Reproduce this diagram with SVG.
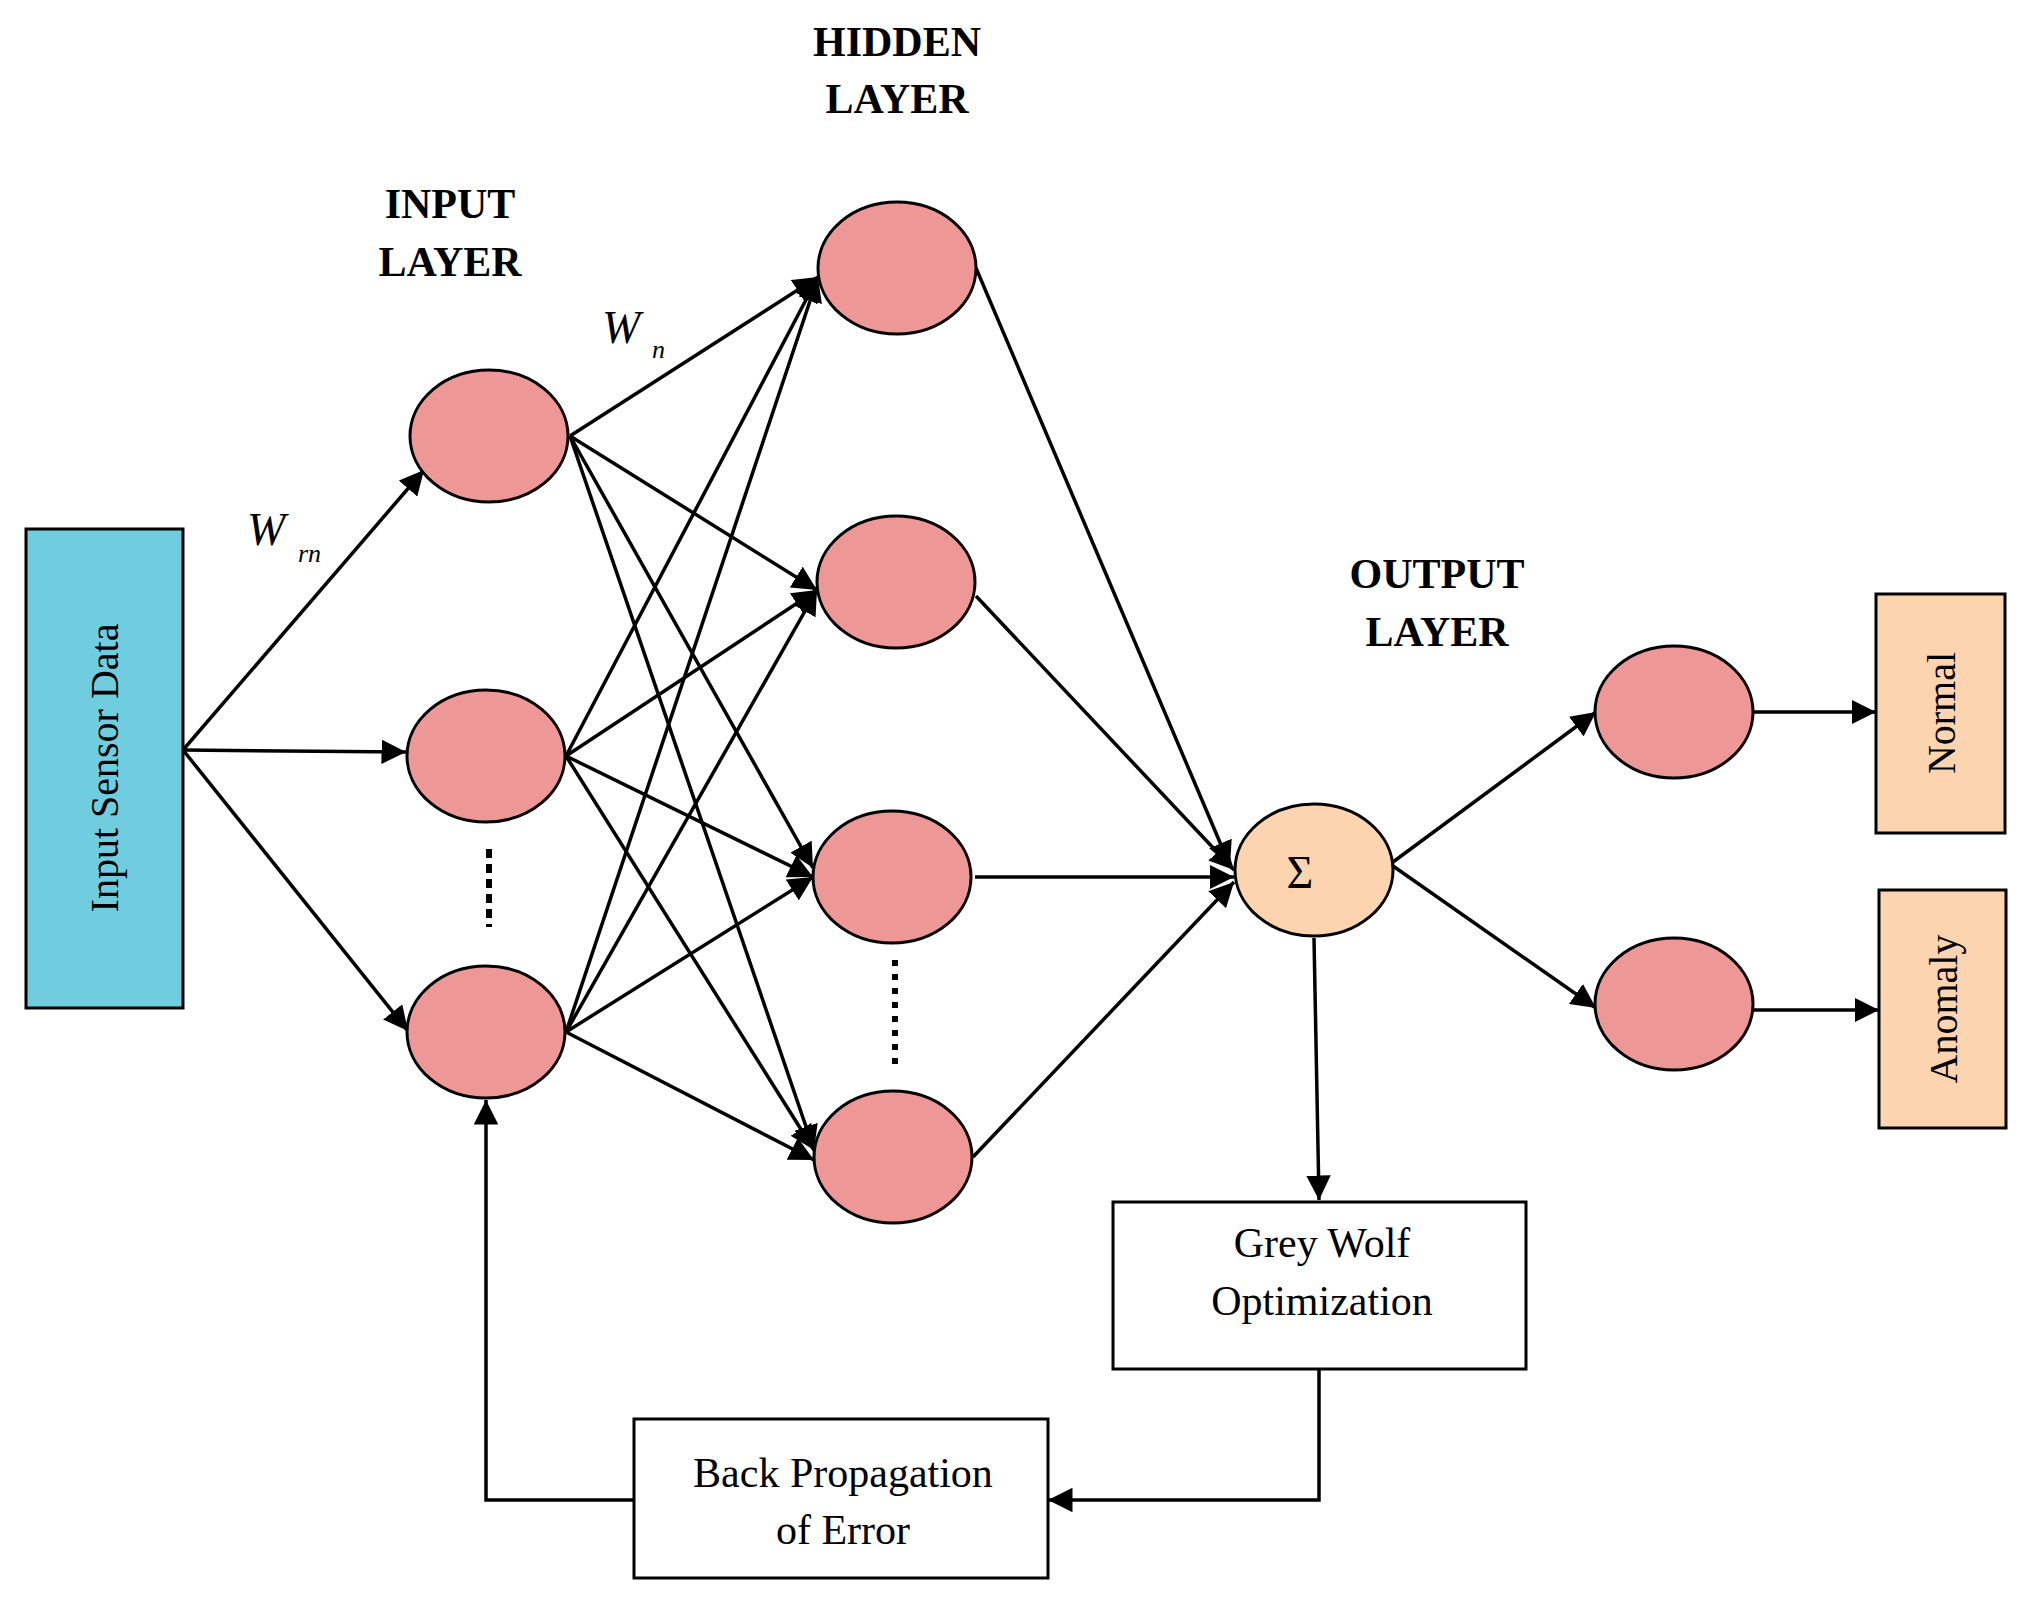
<svg xmlns="http://www.w3.org/2000/svg" width="2023" height="1598" viewBox="0 0 2023 1598">
<style>
.n{fill:#ed9796;stroke:#000;stroke-width:3}
.s{fill:#fdd4b0;stroke:#000;stroke-width:3}
.b{fill:#fff;stroke:#000;stroke-width:3}
.c line,.c polyline{stroke:#000;stroke-width:3.5;fill:none;marker-end:url(#a)}
.h{font-family:"Liberation Serif",serif;font-weight:bold;font-size:42px;text-anchor:middle}
.t{font-family:"Liberation Serif",serif;font-size:42px;text-anchor:middle}
.w{font-family:"Liberation Serif",serif;font-style:italic}
</style>
<defs><marker id="a" viewBox="0 0 10 10" refX="10" refY="5" markerWidth="8" markerHeight="8" markerUnits="userSpaceOnUse" orient="auto"><path d="M0,0L10,5L0,10z"/></marker>
<marker id="a2" viewBox="0 0 10 10" refX="10" refY="5" markerWidth="7" markerHeight="7" orient="auto"><path d="M0,0L10,5L0,10z"/></marker></defs>
<style>.c line,.c polyline{marker-end:url(#a2)}</style>
<g class="c">
<line x1="183" y1="750" x2="424" y2="470"/>
<line x1="183" y1="750" x2="406" y2="752"/>
<line x1="183" y1="750" x2="408" y2="1031"/>
<line x1="570" y1="436" x2="818" y2="277"/>
<line x1="570" y1="436" x2="817" y2="590"/>
<line x1="570" y1="436" x2="813" y2="868"/>
<line x1="570" y1="436" x2="814" y2="1150"/>
<line x1="566" y1="756" x2="818" y2="277"/>
<line x1="566" y1="756" x2="817" y2="590"/>
<line x1="566" y1="756" x2="813" y2="877"/>
<line x1="566" y1="756" x2="814" y2="1150"/>
<line x1="566" y1="1032" x2="818" y2="277"/>
<line x1="566" y1="1032" x2="817" y2="590"/>
<line x1="566" y1="1032" x2="813" y2="877"/>
<line x1="566" y1="1032" x2="814" y2="1160"/>
<line x1="976" y1="268" x2="1230" y2="866"/>
<line x1="976" y1="596" x2="1234" y2="870"/>
<line x1="975" y1="877" x2="1234" y2="877"/>
<line x1="973" y1="1157" x2="1234" y2="882"/>
<line x1="1393" y1="862" x2="1596" y2="712"/>
<line x1="1393" y1="866" x2="1596" y2="1008"/>
<line x1="1753" y1="712" x2="1876" y2="712"/>
<line x1="1753" y1="1010" x2="1879" y2="1010"/>
<line x1="1314" y1="938" x2="1319" y2="1200"/>
<polyline points="1319,1369 1319,1500 1048,1500"/>
<polyline points="634,1500 486,1500 486,1100"/>
</g>
<g id="input-data"><rect x="26" y="529" width="157" height="479" fill="#70cde0" stroke="#000" stroke-width="3"/><text class="t" transform="translate(118,768) rotate(-90)" style="font-size:40px">Input Sensor Data</text></g>
<g id="input-nodes"><ellipse class="n" cx="489" cy="436" rx="79" ry="66"/><ellipse class="n" cx="486" cy="756" rx="79" ry="66"/><ellipse class="n" cx="486" cy="1032" rx="79" ry="66"/>
<line x1="489" y1="849" x2="489" y2="927" stroke="#000" stroke-width="6" stroke-dasharray="9,6"/></g>
<g id="hidden-nodes"><ellipse class="n" cx="897" cy="268" rx="79" ry="66"/><ellipse class="n" cx="896" cy="582" rx="79" ry="66"/><ellipse class="n" cx="892" cy="877" rx="79" ry="66"/><ellipse class="n" cx="893" cy="1157" rx="79" ry="66"/>
<line x1="895" y1="960" x2="895" y2="1066" stroke="#000" stroke-width="6" stroke-dasharray="6,8"/></g>
<g id="sum"><ellipse class="s" cx="1314" cy="870" rx="79" ry="66"/><text class="t" x="1300" y="888" style="font-size:46px">Σ</text></g>
<g id="output-nodes"><ellipse class="n" cx="1674" cy="712" rx="79" ry="66"/><ellipse class="n" cx="1674" cy="1004" rx="79" ry="66"/></g>
<g id="normal"><rect class="s" x="1876" y="594" width="129" height="239"/><text class="t" transform="translate(1955,713) rotate(-90)" style="font-size:40px">Normal</text></g>
<g id="anomaly"><rect class="s" x="1879" y="890" width="127" height="238"/><text class="t" transform="translate(1957,1009) rotate(-90)" style="font-size:40px">Anomaly</text></g>
<g id="gwo"><rect class="b" x="1113" y="1202" width="413" height="167"/><text class="t" x="1322" y="1257">Grey Wolf</text><text class="t" x="1322" y="1315">Optimization</text></g>
<g id="bp"><rect class="b" x="634" y="1419" width="414" height="159"/><text class="t" x="843" y="1487">Back Propagation</text><text class="t" x="843" y="1544">of Error</text></g>
<g id="labels">
<text class="h" x="897" y="56">HIDDEN</text><text class="h" x="897" y="113">LAYER</text>
<text class="h" x="450" y="218">INPUT</text><text class="h" x="450" y="276">LAYER</text>
<text class="h" x="1437" y="588">OUTPUT</text><text class="h" x="1437" y="646">LAYER</text>
<text class="w" x="247" y="545" font-size="46">W</text><text class="w" x="298" y="562" font-size="26">rn</text>
<text class="w" x="602" y="343" font-size="46">W</text><text class="w" x="652" y="358" font-size="26">n</text>
</g>
</svg>
